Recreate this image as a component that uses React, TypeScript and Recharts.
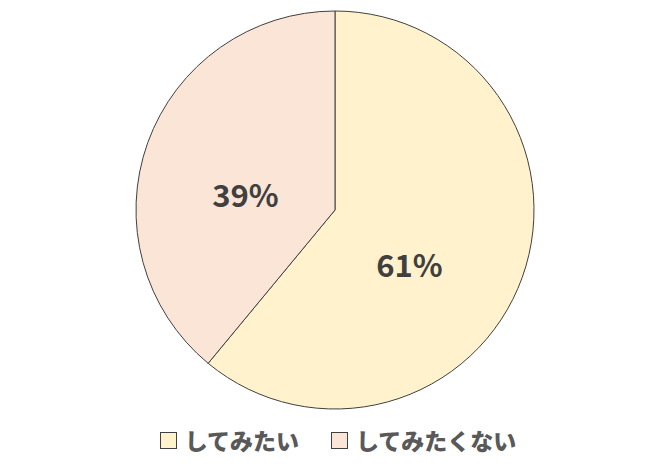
import React from "react";
import { PieChart, Pie, Cell, Legend } from "recharts";

const categories = ["してみたい", "してみたくない"];
const values = [61, 39];
const colors = ["#FFF2CC", "#FBE5D6"];
const LABEL_NUDGE = [
  { dx: -12, dy: 22 },
  { dx: -3, dy: 15 },
];

const data = categories.map((name, i) => ({ name, value: values[i] }));

const RAD = Math.PI / 180;

const renderLabel = (props: any) => {
  const { cx, cy, midAngle, outerRadius, index, value } = props;
  const r = outerRadius * 0.462;
  const x = cx + r * Math.cos(-midAngle * RAD) + LABEL_NUDGE[index].dx;
  const y = cy + r * Math.sin(-midAngle * RAD) + LABEL_NUDGE[index].dy;
  return (
    <text
      x={x}
      y={y}
      textAnchor="middle"
      dominantBaseline="central"
      fill="#404040"
      fontSize={31}
      fontWeight={700}
      fontFamily="'Noto Sans CJK JP', 'Noto Sans', sans-serif"
    >
      {`${value}%`}
    </text>
  );
};

const renderLegend = () => (
  <div
    style={{
      display: "flex",
      justifyContent: "center",
      alignItems: "center",
      gap: 32,
      fontFamily: "'Noto Sans CJK JP', sans-serif",
      fontWeight: 900,
      fontSize: 23,
      color: "#595959",
      paddingLeft: 6,
    }}
  >
    {categories.map((c, i) => (
      <div key={c} style={{ display: "flex", alignItems: "center" }}>
        <span
          style={{
            display: "inline-block",
            width: 15,
            height: 15,
            background: colors[i],
            border: "1px solid #404040",
            marginRight: 8,
          }}
        />
        <span style={{ lineHeight: "26px" }}>{c}</span>
      </div>
    ))}
  </div>
);

export default function App() {
  return (
    <div style={{ position: "absolute", left: 0, top: 0, width: 670, height: 468, background: "#fff" }}>
      <PieChart width={670} height={468} margin={{ top: 0, right: 0, bottom: 0, left: 0 }}>
        <Pie
          data={data}
          dataKey="value"
          nameKey="name"
          cx={335}
          cy={210}
          outerRadius={199}
          startAngle={90}
          endAngle={-270}
          stroke="#404040"
          strokeWidth={1}
          label={renderLabel}
          labelLine={false}
          isAnimationActive={false}
        >
          {data.map((d, i) => (
            <Cell key={d.name} fill={colors[i]} />
          ))}
        </Pie>
        <Legend
          content={renderLegend}
          wrapperStyle={{ position: "absolute", top: 427, left: 0, width: 670 }}
        />
      </PieChart>
    </div>
  );
}
